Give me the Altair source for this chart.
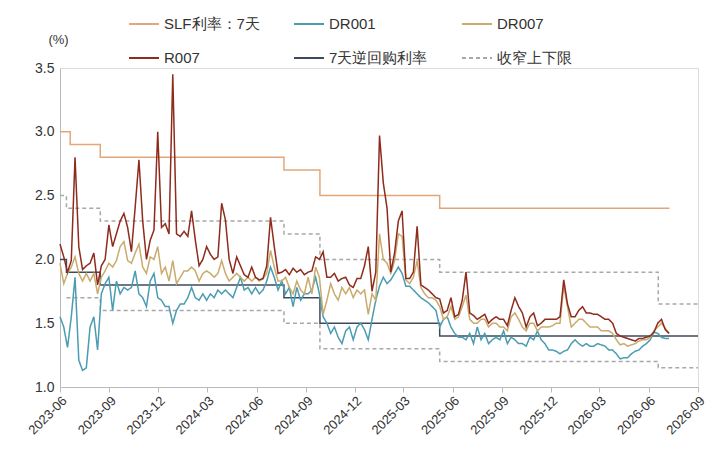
import altair as alt
import pandas as pd

r007 = [2.12,2.02,1.90,1.99,2.80,2.10,1.92,1.95,1.97,2.05,1.80,1.95,2.00,2.27,2.10,2.20,2.30,2.36,2.25,2.06,
        2.41,2.78,2.30,2.00,2.15,2.23,3.00,2.25,2.28,2.20,3.45,2.20,2.18,2.22,2.18,2.38,2.15,1.95,2.00,2.10,
        2.04,2.00,2.02,2.44,2.31,2.00,1.89,2.02,1.95,1.88,1.86,1.94,1.86,1.84,1.85,1.95,2.33,2.10,1.89,1.90,
        1.92,1.88,1.93,1.90,1.92,1.88,1.90,1.91,2.02,2.00,2.06,1.86,1.86,1.89,1.83,1.85,1.86,1.80,1.78,1.85,
        1.85,1.95,2.10,1.75,1.90,2.97,2.60,2.40,1.90,2.05,2.30,2.38,1.85,1.85,1.90,2.26,1.80,1.78,1.76,1.73,
        1.70,1.69,1.58,1.60,1.70,1.55,1.57,1.68,1.90,1.58,1.56,1.53,1.55,1.57,1.50,1.53,1.55,1.53,1.53,1.48,
        1.60,1.70,1.63,1.58,1.47,1.55,1.58,1.48,1.50,1.53,1.53,1.53,1.53,1.55,1.84,1.65,1.55,1.55,1.60,1.63,
        1.58,1.58,1.57,1.57,1.55,1.53,1.53,1.50,1.42,1.40,1.39,1.38,1.37,1.36,1.38,1.38,1.39,1.40,1.43,1.50,
        1.53,1.45,1.42]
dr007 = [1.97,1.81,1.89,1.94,2.02,1.89,1.83,1.89,1.83,1.89,1.73,1.86,1.91,1.97,1.94,1.99,2.10,2.14,1.99,1.97,
         2.05,2.12,1.94,1.89,2.02,2.00,2.10,1.89,1.94,1.83,1.99,1.81,1.86,1.91,1.91,1.94,1.91,1.83,1.89,1.91,
         1.89,1.86,1.89,1.99,1.89,1.83,1.86,1.89,1.86,1.83,1.86,1.83,1.86,1.83,1.85,1.89,2.07,1.94,1.83,1.83,
         1.86,1.78,1.73,1.83,1.76,1.73,1.86,1.73,1.94,1.86,1.57,1.68,1.81,1.73,1.68,1.78,1.73,1.78,1.70,1.76,
         1.73,1.76,1.57,1.73,1.68,2.20,2.00,1.97,1.89,1.99,2.20,2.18,1.84,1.81,1.86,1.99,1.78,1.73,1.70,1.70,
         1.68,1.63,1.53,1.55,1.63,1.53,1.55,1.63,1.72,1.53,1.50,1.50,1.53,1.53,1.47,1.50,1.50,1.47,1.47,1.44,
         1.55,1.58,1.53,1.47,1.44,1.50,1.50,1.44,1.47,1.47,1.47,1.48,1.50,1.50,1.79,1.63,1.47,1.50,1.53,1.53,
         1.50,1.47,1.47,1.47,1.44,1.44,1.44,1.42,1.37,1.33,1.34,1.32,1.33,1.34,1.36,1.37,1.37,1.39,1.44,1.47,
         1.50,1.46,1.42]
dr001 = [1.55,1.47,1.31,1.55,1.86,1.21,1.13,1.15,1.47,1.55,1.29,1.73,1.81,1.86,1.60,1.83,1.73,1.78,1.76,1.78,
         1.91,1.73,1.70,1.63,1.83,1.89,1.70,1.68,1.63,1.63,1.50,1.60,1.65,1.65,1.70,1.78,1.70,1.68,1.73,1.68,
         1.73,1.70,1.76,1.73,1.76,1.73,1.70,1.78,1.86,1.76,1.78,1.73,1.78,1.73,1.76,1.83,1.94,1.86,1.76,1.83,
         1.73,1.78,1.63,1.78,1.68,1.73,1.73,1.76,1.86,1.73,1.55,1.50,1.42,1.47,1.39,1.34,1.44,1.47,1.37,1.47,
         1.50,1.45,1.37,1.53,1.68,1.79,1.86,1.81,1.84,1.89,1.94,1.89,1.79,1.79,1.76,1.73,1.70,1.68,1.66,1.63,
         1.60,1.47,1.53,1.55,1.47,1.42,1.39,1.39,1.37,1.42,1.34,1.47,1.37,1.42,1.34,1.37,1.39,1.37,1.44,1.34,
         1.39,1.37,1.34,1.34,1.32,1.39,1.37,1.44,1.37,1.34,1.29,1.29,1.28,1.26,1.28,1.29,1.34,1.37,1.34,1.32,
         1.34,1.32,1.32,1.34,1.33,1.32,1.29,1.29,1.26,1.22,1.23,1.23,1.26,1.28,1.29,1.32,1.34,1.37,1.43,1.42,
         1.39,1.38,1.38]

slf_dates = ["2023-06-01","2023-06-20","2023-08-15","2024-07-22","2024-09-27","2025-05-08","2026-07-10"]
slf_vals = [3.0,2.9,2.8,2.7,2.5,2.4,2.4]
repo_dates = ["2023-06-01","2023-06-13","2023-08-15","2024-07-22","2024-09-27","2025-05-08","2026-09-01"]
repo_vals = [2.0,1.9,1.8,1.7,1.5,1.4,1.4]
up_dates = ["2023-06-01","2023-06-13","2023-08-15","2024-07-22","2024-09-27","2025-05-08","2026-06-19","2026-09-01"]
up_vals = [2.5,2.4,2.3,2.2,2.0,1.9,1.65,1.65]
lo_dates = ["2023-06-13","2023-08-15","2024-07-22","2024-09-27","2025-05-08","2026-06-19","2026-09-01"]
lo_vals = [1.7,1.6,1.5,1.3,1.2,1.15,1.15]

names = ["SLF利率：7天", "DR001", "DR007", "R007", "7天逆回购利率", "收窄上下限"]
colors = ["#E3A679", "#4A9CB2", "#C9AB6E", "#8E2B1C", "#3D4A5E", "#A8A8A8"]
dashes = [[1,0],[1,0],[1,0],[1,0],[1,0],[4,3]]

dates = pd.date_range("2023-06-01", periods=len(r007), freq="7D")
rows = []
for nm, vals in [("DR001", dr001), ("DR007", dr007), ("R007", r007)]:
    for d, v in zip(dates, vals):
        rows.append({"date": d, "v": v, "s": nm, "g": nm})
daily = pd.DataFrame(rows)

srows = []
for nm, g, ds, vs in [("SLF利率：7天","slf",slf_dates,slf_vals),("7天逆回购利率","repo",repo_dates,repo_vals),
                      ("收窄上下限","up",up_dates,up_vals),("收窄上下限","lo",lo_dates,lo_vals)]:
    for d, v in zip(ds, vs):
        srows.append({"date": pd.Timestamp(d), "v": v, "s": nm, "g": g})
steps = pd.DataFrame(srows)

xenc = alt.X("date:T", scale=alt.Scale(domain=["2023-06-01","2026-09-01"]),
             axis=alt.Axis(title=None, format="%Y-%m",
                           values=[f"{y}-{m:02d}-01" for y, m in
                                   [(2023,6),(2023,9),(2023,12),(2024,3),(2024,6),(2024,9),(2024,12),
                                    (2025,3),(2025,6),(2025,9),(2025,12),(2026,3),(2026,6),(2026,9)]],
                           labelAngle=-45, labelAlign="right", labelBaseline="top", labelFontSize=13,
                           labelColor="#333", domainColor="#BBBBBB", tickColor="#BBBBBB", tickSize=5,
                           grid=False, labelPadding=2))
yenc = alt.Y("v:Q", scale=alt.Scale(domain=[1.0, 3.5], nice=False),
             axis=alt.Axis(title="(%)", titleAngle=0, titleX=-2, titleY=-22, titleFontSize=13,
                           titleFontWeight="normal", titleColor="#333", values=[1.0,1.5,2.0,2.5,3.0,3.5],
                           format=".1f", labelFontSize=14, labelColor="#333", domainColor="#BBBBBB",
                           ticks=False, grid=False, labelPadding=6))
cenc = alt.Color("s:N", scale=alt.Scale(domain=names, range=colors),
                 legend=alt.Legend(title=None, orient="none", legendX=68, legendY=-60, columns=3,
                                   direction="horizontal",
                                   symbolType="stroke", symbolSize=900, symbolStrokeWidth=2,
                                   labelFontSize=15, labelColor="#333", columnPadding=30, rowPadding=10,
                                   labelLimit=200, symbolOffset=0))
denc = alt.StrokeDash("s:N", scale=alt.Scale(domain=names, range=dashes), legend=None)

l1 = alt.Chart(steps).mark_line(interpolate="step-after", strokeWidth=1.5).encode(
    x=xenc, y=yenc, color=cenc, strokeDash=denc, detail="g:N")
l2 = alt.Chart(daily).mark_line(strokeWidth=1.5).encode(
    x=xenc, y=yenc, color=cenc, strokeDash=denc, detail="g:N")

chart = alt.layer(l1, l2).properties(
    width=638, height=319, autosize=alt.AutoSizeParams(type="none"),
    padding={"left": 52, "top": 60, "right": 21, "bottom": 65}
).configure_view(stroke=None).configure(font="Liberation Sans")

chart.save("out.html", embed_options={"renderer": "svg", "actions": False})
